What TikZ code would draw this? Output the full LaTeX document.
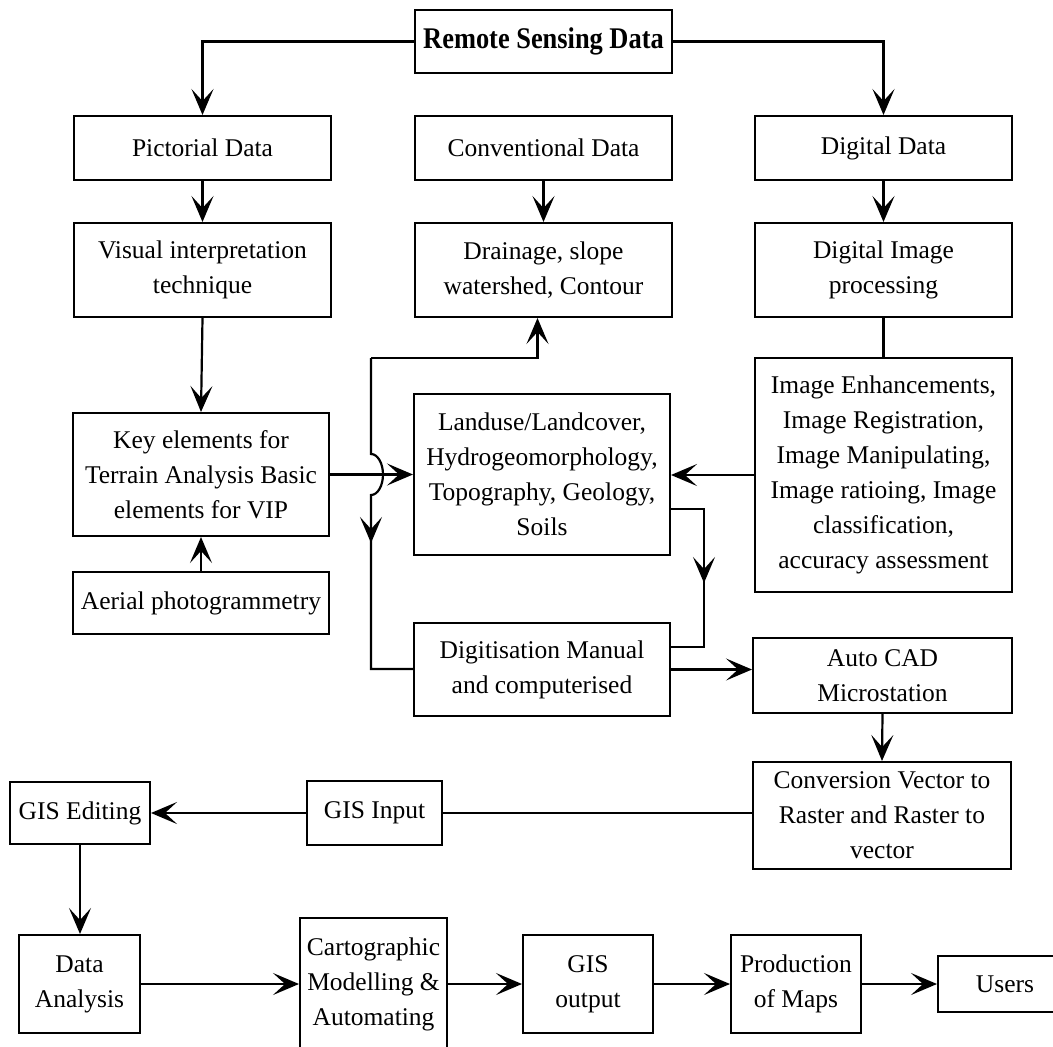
\documentclass[tikz,border=0pt]{standalone}
\usepackage{fontspec}
\setmainfont{Liberation Serif}
\usetikzlibrary{arrows.meta,calc}
\begin{document}
\begin{tikzpicture}[x=1pt,y=-1pt,
 box/.style={draw, line width=2pt, inner sep=0pt, align=center, font=\fontsize{25.5}{35}\selectfont},
 conn/.style={line width=2.2pt},
 arr/.style={conn, -{Stealth[length=26pt,width=22pt,inset=12pt]}},
]
\useasboundingbox (0,0) rectangle (1053,1047);
\fill[white] (0,0) rectangle (1053,1047);
\clip (0,0) rectangle (1053,1047);

\node[box, minimum width=257pt, minimum height=63pt] (rs) at (543.5,41.5)
  {\scalebox{0.88}[1]{\fontsize{30}{36}\selectfont\bfseries Remote Sensing Data}};
\node[box, minimum width=257pt, minimum height=64pt] (pict) at (202.5,148) {Pictorial Data};
\node[box, minimum width=257pt, minimum height=64pt] (conv) at (543.5,148) {Conventional Data};
\node[box, minimum width=257pt, minimum height=64pt] (digi) at (883.5,148) {Digital Data};
\node[box, minimum width=257pt, minimum height=94pt] (vis) at (202.5,270) {Visual interpretation\\technique};
\node[box, minimum width=257pt, minimum height=94pt] (drain) at (543.5,270) {Drainage, slope\\watershed, Contour};
\node[box, minimum width=257pt, minimum height=94pt] (dip) at (883.5,270) {Digital Image\\processing};
\node[box, minimum width=256pt, minimum height=123pt] (key) at (201,474.5) {Key elements for\\Terrain Analysis Basic\\elements for VIP};
\node[box, minimum width=256pt, minimum height=62pt] (aerial) at (201,603) {Aerial photogrammetry};
\node[box, minimum width=256pt, minimum height=161pt] (land) at (542,474.5) {Landuse/Landcover,\\Hydrogeomorphology,\\Topography, Geology,\\Soils};
\node[box, minimum width=257pt, minimum height=234pt] (imgenh) at (883.5,475) {Image Enhancements,\\Image Registration,\\Image Manipulating,\\Image ratioing, Image\\classification,\\accuracy assessment};
\node[box, minimum width=256pt, minimum height=93pt] (digit) at (542,669.5) {Digitisation Manual\\and computerised};
\node[box, minimum width=259pt, minimum height=75pt] (autocad) at (882.5,675.5) {Auto CAD\\Microstation};
\node[box, minimum width=258pt, minimum height=107pt] (conv2) at (882,815.5) {Conversion Vector to\\Raster and Raster to\\vector};
\node[box, minimum width=135pt, minimum height=64pt] (gisin) at (374.5,813) {GIS Input};
\node[box, minimum width=140pt, minimum height=62pt] (gised) at (80,813) {GIS Editing};
\node[box, minimum width=121pt, minimum height=98pt] (data) at (79.5,984) {Data\\Analysis};
\node[box, minimum width=147pt, minimum height=132pt] (carto) at (373.5,984) {Cartographic\\Modelling \&\\Automating};
\node[box, minimum width=130pt, minimum height=98pt] (gisout) at (588,984) {GIS\\output};
\node[box, minimum width=130pt, minimum height=98pt] (prod) at (796,984) {Production\\of Maps};
\node[box, minimum width=134pt, minimum height=56pt] (users) at (1005,984) {Users};

\draw[arr] (rs.west) -| (pict.north);
\draw[arr] (rs.east) -| (digi.north);
\draw[arr] (pict.south) -- (vis.north);
\draw[arr] (conv.south) -- (drain.north);
\draw[arr] (digi.south) -- (dip.north);
\draw[conn] (dip.south) -- (imgenh.north);
\draw[arr] (vis.south) -- (key.north);
\draw[arr] (aerial.north) -- (key.south);
\draw[arr] (key.east) -- (key.east -| land.west);

\coordinate (j) at (371,358);
\coordinate (h1) at (371,454);
\coordinate (h2) at (371,669);
\draw[arr] (j) -| ([xshift=-6pt]drain.south);
\draw[conn] (j) -- (h1) arc[start angle=90, end angle=-90, x radius=12pt, y radius=20.5pt] -- (h2) -- (h2 -| digit.west);
\draw[arr] (371,510) -- (371,543);

\coordinate (r1) at (704,509);
\coordinate (r2) at (704,647);
\draw[conn] (r1 -| land.east) -- (r1) -- (r2) -- (r2 -| digit.east);
\draw[arr] (704,550) -- (704,583);

\draw[arr] (imgenh.west) -- (imgenh.west -| land.east);
\draw[arr] (digit.east) -- (digit.east -| autocad.west);
\draw[arr] (autocad.south) -- (conv2.north);
\draw[conn] (conv2.west |- gisin.east) -- (gisin.east);
\draw[arr] (gisin.west) -- (gised.east);
\draw[arr] (gised.south) -- (gised.south |- data.north);
\draw[arr] (data.east) -- (carto.west);
\draw[arr] (carto.east) -- (gisout.west);
\draw[arr] (gisout.east) -- (prod.west);
\draw[arr] (prod.east) -- (users.west);
\end{tikzpicture}
\end{document}
